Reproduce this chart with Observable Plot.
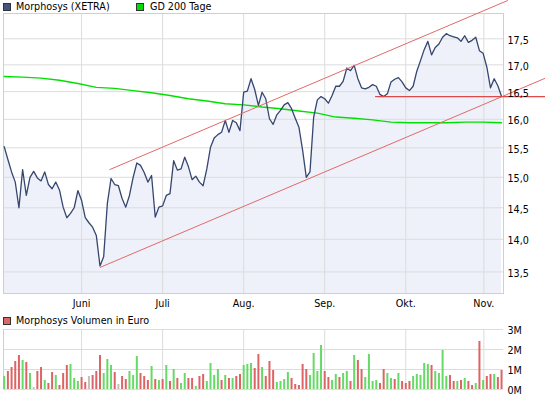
<!DOCTYPE html>
<html><head><meta charset="utf-8">
<script src="https://cdn.jsdelivr.net/npm/d3@7"></script>
<script src="https://cdn.jsdelivr.net/npm/@observablehq/plot@0.6"></script>
<style>
body{margin:0;background:#fff;font-family:"DejaVu Sans",sans-serif;}
#wrap{position:relative;width:545px;height:398px;overflow:hidden;background:#fff;}
#main{position:absolute;left:0;top:0;}
#vol{position:absolute;left:0;top:312px;}
.lg{position:absolute;font-size:9.6px;line-height:12px;color:#000;white-space:nowrap;}
.sw{position:absolute;width:6px;height:6px;border:1px solid #333;}
</style></head><body>
<div id="wrap">
  <div id="main"></div>
  <div id="vol"></div>
  <div class="sw" style="left:3px;top:3px;background:#44557f"></div>
  <div class="lg" style="left:16px;top:1px">Morphosys (XETRA)</div>
  <div class="sw" style="left:136px;top:3px;background:#00dd00"></div>
  <div class="lg" style="left:150px;top:1px">GD 200 Tage</div>
  <div class="sw" style="left:3px;top:317px;background:#dd6666"></div>
  <div class="lg" style="left:16px;top:315px">Morphosys Volumen in Euro</div>
</div>
<script>
// Trading-day closing prices (EUR), one per trading day
const price = [15.52,15.30,15.09,14.92,14.50,15.13,14.70,15.00,15.10,14.99,
14.94,15.09,14.88,14.81,14.92,14.79,14.51,14.34,14.41,14.50,
14.78,14.62,14.34,14.26,14.19,14.06,13.59,13.73,14.57,14.98,
14.88,14.86,14.65,14.51,14.70,15.00,15.24,15.20,15.08,14.92,
15.03,14.35,14.51,14.53,14.70,14.73,15.28,15.12,15.14,15.34,
15.18,14.96,15.02,14.92,14.86,15.14,15.51,15.67,15.73,15.77,
15.98,15.77,15.98,15.94,15.80,16.49,16.51,16.74,16.54,16.25,
16.49,16.37,16.01,15.91,16.08,16.16,16.26,16.30,16.19,16.02,
15.86,15.46,15.00,15.09,16.04,16.35,16.41,16.37,16.29,16.43,
16.60,16.60,16.69,16.94,16.89,16.99,16.74,16.57,16.55,16.58,
16.63,16.60,16.45,16.41,16.46,16.68,16.73,16.76,16.68,16.57,
16.52,16.60,16.88,17.08,17.29,17.45,17.19,17.33,17.40,17.53,
17.60,17.56,17.54,17.52,17.45,17.56,17.43,17.47,17.53,17.27,
17.22,16.96,16.57,16.74,16.61,16.41];

// 200-day average, read every 5 trading days
const gdIdx = [0,5,10,15,20,25,30,35,40,45,50,55,60,65,70,75,80,85,90,95,100,105,110,115,120,125,130,135];
const gdVal = [16.78,16.77,16.75,16.71,16.65,16.58,16.56,16.52,16.48,16.43,16.37,16.33,16.28,16.26,16.22,16.19,16.15,16.11,16.04,16.02,15.99,15.95,15.94,15.94,15.94,15.95,15.95,15.94];

// Volume in million EUR and day direction (u = up, d = down, n = unchanged)
const volume = [0.65,0.9,1.1,1.4,1.7,1.45,1.35,0.8,0.1,0.9,
1.1,0.45,0.3,0.85,0.7,0.2,0.8,1.2,1.25,0.55,
0.4,0.6,0.35,0.65,0.7,0.9,1.7,0.8,1.5,1.2,
0.85,0.25,0.65,0.5,0.9,0.7,1.65,0.8,0.65,0.45,
1.15,0.5,0.45,0.5,1.2,0.4,1.0,0.55,0.3,0.8,
0.55,0.55,0.15,0.65,0.75,0.4,1.3,0.7,1.0,0.45,
0.7,0.55,0.55,0.65,0.75,1.2,1.25,1.3,1.05,1.75,
1.1,0.65,1.4,0.95,0.35,0.4,0.5,0.85,0.55,0.25,
0.2,1.25,1.0,0.7,1.8,0.9,2.2,0.9,0.6,0.45,
0.75,0.6,0.8,0.9,0.4,1.7,1.45,1.0,0.6,1.75,
0.4,0.45,0.3,1.0,0.8,0.55,0.5,0.8,0.4,0.3,
0.4,0.65,0.75,0.7,1.3,1.25,1.2,0.9,0.8,1.95,
0.65,0.7,0.4,0.4,0.45,0.55,0.4,0.2,0.3,2.4,
0.45,0.65,0.75,0.75,0.6,0.95];
const direction = ["u","d","d","d","d","u","d","u","n","d",
"d","u","d","d","u","d","d","d","u","u",
"u","d","d","n","d","d","d","u","u","u",
"d","n","d","d","u","u","u","d","d","d",
"u","d","u","d","u","d","u","d","u","u",
"d","d","u","d","d","u","u","u","u","d",
"u","d","u","d","d","u","u","u","d","d",
"u","d","d","d","u","u","u","u","d","d",
"d","d","d","u","u","u","u","d","d","u",
"u","d","u","u","d","u","d","d","u","u",
"u","u","d","d","u","u","d","u","d","d",
"d","u","u","u","u","u","d","u","u","u",
"u","d","d","u","d","u","d","d","u","d",
"u","d","d","u","d","d"];

// Trend channel and support line (trading-day index, price)
const upperX = [28.67,136.6], upperY = [15.13,18.26];
const lowerX = [26.1,146.9],  lowerY = [13.57,16.75];
const supportX = [100.8,146.9], supportY = [16.41,16.41];

// Axis ticks
const monthIdx = [21,43,65,87,109,130.2];
const monthLabels = ["Juni","Juli","Aug.","Sep.","Okt.","Nov."];
const yTicks = [13.5,14,14.5,15,15.5,16,16.5,17,17.5];
const volTicks = [0,1,2,3];

const xDomain = [-0.19,135.53];
const yDomain = [13.18,18.0];

const priceData = price.map((p,i)=>({i,p}));
const gdData = gdIdx.map((i,k)=>({i,v:gdVal[k]}));
const volData = volume.map((v,i)=>({i,v,d:direction[i]}));
const dirColor = {u:"#66d966", d:"#dd6464", n:"#c0c0c0"};
const line = (xs,ys)=>xs.map((x,k)=>({x,y:ys[k]}));

const font = {fontFamily:"DejaVu Sans", fontSize:"9.6px", background:"transparent", overflow:"visible", color:"#000"};

const main = Plot.plot({
  width:545, height:312, marginLeft:3, marginRight:42, marginTop:13, marginBottom:19,
  style:font,
  x:{domain:xDomain, label:null},
  y:{type:"log", domain:yDomain, label:null},
  marks:[
    Plot.areaY(priceData,{x:"i", y1:yDomain[0], y2:"p", fill:"#eef1f9"}),
    Plot.gridY(yTicks,{stroke:"#dcdcdc", strokeOpacity:1}),
    Plot.gridX(monthIdx,{stroke:"#dcdcdc", strokeOpacity:1}),
    Plot.frame({stroke:"#cfcfcf"}),
    Plot.line(gdData,{x:"i", y:"v", stroke:"#00e000", strokeWidth:1.4}),
    Plot.line(priceData,{x:"i", y:"p", stroke:"#36466f", strokeWidth:1.3}),
    Plot.line(line(upperX,upperY),{x:"x", y:"y", stroke:"#e06a6a", strokeWidth:1}),
    Plot.line(line(lowerX,lowerY),{x:"x", y:"y", stroke:"#e06a6a", strokeWidth:1}),
    Plot.line(line(supportX,supportY),{x:"x", y:"y", stroke:"#dd4a4a", strokeWidth:1.2}),
    Plot.axisX(monthIdx,{anchor:"bottom", tickSize:0, tickPadding:7, label:null,
      tickFormat:d=>monthLabels[monthIdx.indexOf(d)]}),
    Plot.axisY(yTicks,{anchor:"right", tickSize:0, tickPadding:4, label:null, textAnchor:"start", dy:2,
      tickFormat:d=>d.toFixed(1).replace(".",",")})
  ]
});
document.getElementById("main").appendChild(main);

const vol = Plot.plot({
  width:545, height:86, marginLeft:3, marginRight:42, marginTop:17, marginBottom:9,
  style:font,
  x:{domain:xDomain, label:null, axis:null},
  y:{domain:[0,3], label:null},
  marks:[
    Plot.gridY(volTicks,{stroke:"#dcdcdc", strokeOpacity:1}),
    Plot.gridX(monthIdx,{stroke:"#dcdcdc", strokeOpacity:1}),
    Plot.ruleX([xDomain[0]],{stroke:"#cfcfcf"}),
    Plot.ruleX(volData,{x:"i", y1:0, y2:"v", stroke:d=>dirColor[d.d], strokeWidth:2}),
    Plot.axisY(volTicks,{anchor:"right", tickSize:0, tickPadding:4, label:null, textAnchor:"start", dy:1.5,
      tickFormat:d=>d+"M"})
  ]
});
document.getElementById("vol").appendChild(vol);
</script>
</body></html>
